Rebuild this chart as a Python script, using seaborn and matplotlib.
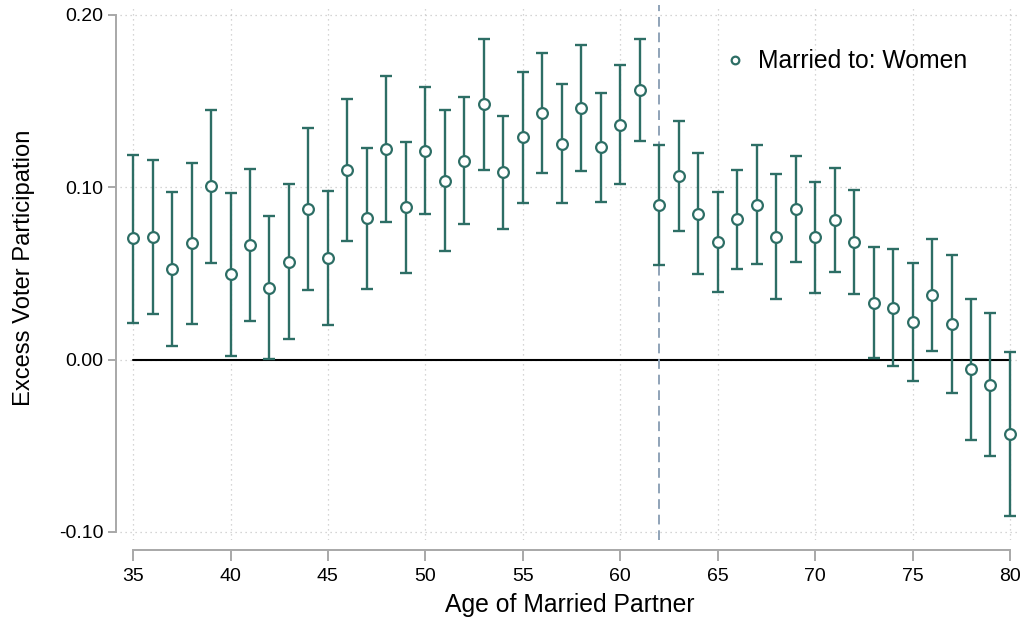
import numpy as np
import pandas as pd
import matplotlib
matplotlib.use("Agg")
import matplotlib.pyplot as plt
import seaborn as sns

ages = list(range(35, 81))
estimate = [0.0704, 0.0714, 0.0524, 0.0675, 0.1008, 0.0495, 0.0665, 0.0416, 0.0569, 0.0872,
            0.0590, 0.1100, 0.0820, 0.1224, 0.0884, 0.1211, 0.1039, 0.1155, 0.1482, 0.1087,
            0.1290, 0.1433, 0.1253, 0.1462, 0.1232, 0.1362, 0.1567, 0.0899, 0.1066, 0.0847,
            0.0681, 0.0814, 0.0899, 0.0714, 0.0876, 0.0710, 0.0812, 0.0683, 0.0327, 0.0302,
            0.0217, 0.0377, 0.0205, -0.0056, -0.0145, -0.0431]
ci_high = [0.1190, 0.1160, 0.0973, 0.1140, 0.1450, 0.0967, 0.1106, 0.0832, 0.1019, 0.1342,
           0.0979, 0.1510, 0.1230, 0.1646, 0.1263, 0.1580, 0.1447, 0.1524, 0.1859, 0.1412,
           0.1669, 0.1780, 0.1598, 0.1824, 0.1547, 0.1708, 0.1863, 0.1246, 0.1383, 0.1197,
           0.0971, 0.1098, 0.1246, 0.1075, 0.1182, 0.1029, 0.1114, 0.0986, 0.0654, 0.0640,
           0.0559, 0.0698, 0.0605, 0.0350, 0.0271, 0.0043]
ci_low = [0.0215, 0.0265, 0.0077, 0.0207, 0.0563, 0.0023, 0.0224, 0.0006, 0.0118, 0.0402,
          0.0199, 0.0690, 0.0408, 0.0801, 0.0501, 0.0843, 0.0629, 0.0787, 0.1101, 0.0760,
          0.0911, 0.1085, 0.0907, 0.1097, 0.0915, 0.1017, 0.1269, 0.0549, 0.0747, 0.0495,
          0.0391, 0.0528, 0.0553, 0.0354, 0.0569, 0.0389, 0.0507, 0.0381, 0.0008, -0.0039,
          -0.0122, 0.0052, -0.0195, -0.0464, -0.0561, -0.0907]
x_ticks = [35, 40, 45, 50, 55, 60, 65, 70, 75, 80]
y_ticks = [-0.10, 0.00, 0.10, 0.20]
y_ticklabels = ["-0.10", "0.00", "0.10", "0.20"]
cutoff_age = 62
series_label = "Married to: Women"

df = pd.DataFrame({"age": ages, "estimate": estimate, "lo": ci_low, "hi": ci_high,
                   "group": series_label})

sns.set_theme(style="white")
plt.rcParams["font.family"] = ["Liberation Sans", "DejaVu Sans"]
plt.rcParams["text.color"] = "black"
plt.rcParams["axes.labelcolor"] = "black"

teal = "#2d6e65"
fig = plt.figure(figsize=(10.24, 6.23), dpi=100)
ax = fig.add_axes([0.1172, 0.1332, 0.8788, 0.8588])

# gridlines
for xv in x_ticks:
    ax.axvline(xv, color="#c8c8c8", lw=0.9, ls=(0, (1, 3)), zorder=0)
for yv in y_ticks:
    ax.axhline(yv, color="#c8c8c8", lw=0.9, ls=(0, (1, 3)), zorder=0)

# zero line and cutoff
ax.plot([ages[0], ages[-1]], [0, 0], color="black", lw=1.5, zorder=1)
ax.axvline(cutoff_age, color="#8fa3b8", lw=1.4, ls=(0, (5, 3)), zorder=1)

# error bars
yerr = np.vstack([df["estimate"] - df["lo"], df["hi"] - df["estimate"]])
ax.errorbar(df["age"], df["estimate"], yerr=yerr, fmt="none", ecolor=teal,
            elinewidth=1.7, capsize=4.5, capthick=1.7, zorder=2)

sns.scatterplot(data=df, x="age", y="estimate", hue="group", palette=[teal],
                marker="o", s=60, linewidth=1.6, ax=ax, zorder=3, legend=False)
sc = ax.collections[-1]
sc.set_facecolor("white")
sc.set_edgecolor(teal)

ax.set_xlim(34.33, 80.51)
ax.set_ylim(-0.1047, 0.2058)
ax.set_xticks(x_ticks)
ax.set_xticklabels([str(v) for v in x_ticks])
ax.set_yticks(y_ticks)
ax.set_yticklabels(y_ticklabels)
ax.set_xlabel("Age of Married Partner", fontsize=17.8, labelpad=6, color="black")
ax.set_ylabel("Excess Voter Participation", fontsize=17.1, color="black")
ax.yaxis.set_label_coords(-0.094, 0.508)

for side in ["top", "right"]:
    ax.spines[side].set_visible(False)
ax.spines["left"].set_position(("outward", 3))
ax.spines["bottom"].set_position(("outward", 7))
ax.spines["left"].set_bounds(-0.10, 0.20)
ax.spines["bottom"].set_bounds(35, 80)
for side in ["left", "bottom"]:
    ax.spines[side].set_color("#a8a8a8")
    ax.spines[side].set_linewidth(1.4)
ax.tick_params(axis="both", which="major", direction="out", colors="#a8a8a8",
               labelcolor="black", width=1.4, labelsize=14, bottom=True, left=True)
ax.tick_params(axis="y", length=6, pad=3)
ax.tick_params(axis="x", length=8, pad=5)

handles = [plt.Line2D([], [], ls="none", marker="o", markersize=5.5,
                      markerfacecolor="white", markeredgecolor=teal, markeredgewidth=1.6)]
leg = ax.legend(handles, [series_label], loc="center left", bbox_to_anchor=(0.6696, 0.895),
                frameon=False, fontsize=17.8, handletextpad=0.45, handlelength=1.0,
                borderaxespad=0, borderpad=0)
for t in leg.get_texts():
    t.set_color("black")

ax.set_facecolor("white")
fig.patch.set_facecolor("white")
fig.savefig("out.png", dpi=100, facecolor="white")
